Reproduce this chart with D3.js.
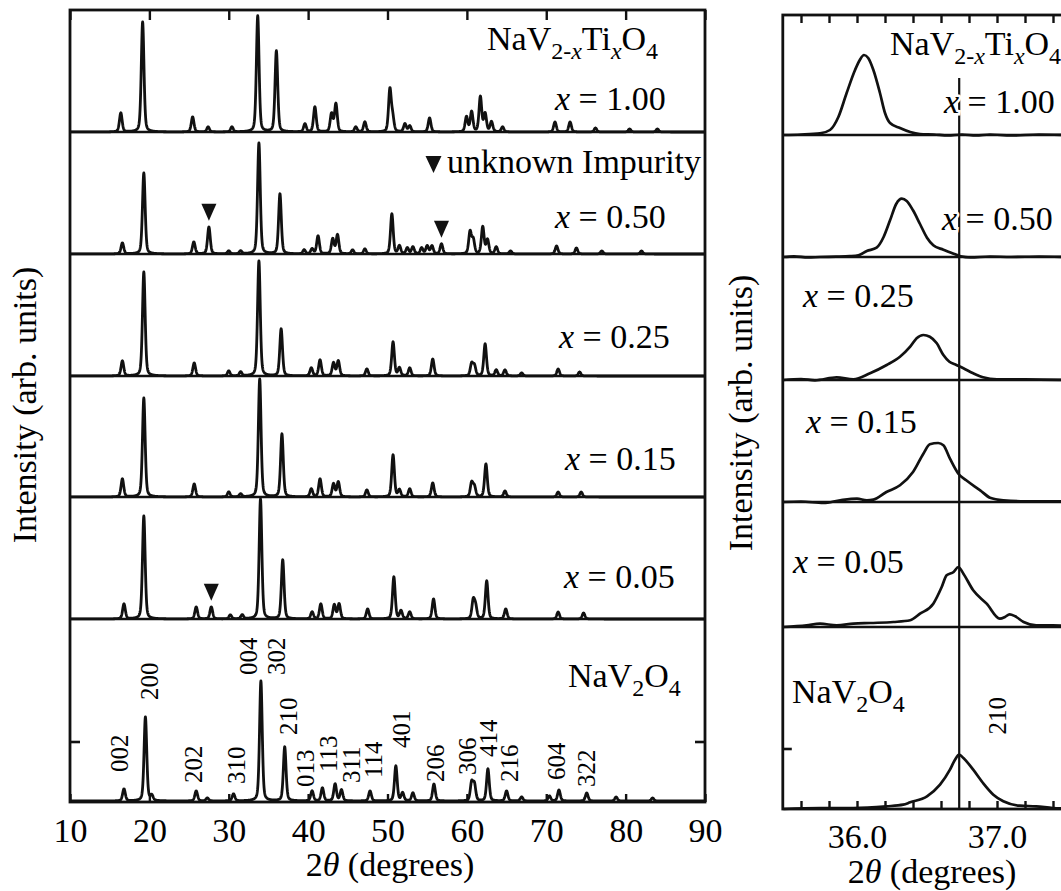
<!DOCTYPE html>
<html>
<head>
<meta charset="utf-8">
<script src="https://cdn.jsdelivr.net/npm/d3@7"></script>
<style>
  body { margin: 0; background: #fff; }
  svg { display: block; }
  text { font-family: "Liberation Serif", "Times New Roman", serif; fill: #000; }
</style>
</head>
<body>
<svg id="chart" width="1061" height="891"></svg>
<script>
// ---------- data ----------
// compositions x in NaV(2-x)Ti(x)O4, top to bottom
const compositions = ["1.00", "0.50", "0.25", "0.15", "0.05", "0"];

// full-range patterns: [2theta (deg), peak height (arb. units)]
const peaksX100 = [[16.4,19],[19.15,110],[25.45,15],[27.4,5],[30.4,5],[33.65,116],[36.0,81],[39.6,8],[40.85,25],
  [42.95,18],[43.5,28],[46.0,5],[47.15,10],[50.3,42],[50.65,14],[52.2,8],[52.8,6],[55.3,14],[59.95,15],[60.6,20],
  [61.7,35],[62.3,18],[63.1,10],[64.5,5],[71.1,10],[73.0,10],[76.2,4],[80.5,3],[84.0,3]];
const peaksX050 = [[16.6,11],[19.3,81],[25.6,12],[27.5,27],[30.0,3],[31.5,3],[33.8,111],[36.45,60],[39.5,4],[40.5,5],
  [41.25,18],[43.1,15],[43.7,19],[45.6,4],[47.15,5],[50.55,40],[51.5,8],[52.5,6],[53.2,7],[54.3,6],[55.0,8],[55.6,8],
  [56.8,10],[60.4,22],[60.8,14],[62.0,27],[62.6,14],[63.7,7],[65.5,3],[71.3,8],[73.8,6],[77.0,3],[82.0,3]];
const peaksX025 = [[16.6,15],[19.3,104],[25.65,13],[30.0,5],[31.5,4],[33.8,115],[36.6,47],[40.4,8],[41.5,16],[43.2,13],
  [43.8,15],[47.4,7],[50.7,34],[51.5,8],[52.8,8],[55.7,17],[60.6,12],[60.95,10],[62.3,32],[63.7,6],[64.8,6],[66.9,3],
  [71.5,7],[74.2,4]];
const peaksX015 = [[16.6,18],[19.3,99],[25.65,13],[30.0,5],[31.5,3],[33.9,118],[36.7,63],[40.4,8],[41.5,18],[43.2,13],
  [43.8,15],[47.4,7],[50.7,42],[51.5,7],[52.8,8],[55.7,14],[60.6,14],[60.95,10],[62.4,33],[64.8,6],[71.5,5],[74.4,5]];
const peaksX005 = [[16.8,15],[19.3,103],[25.9,12],[27.8,12],[30.2,4],[31.7,4],[34.0,120],[36.8,59],[40.5,7],[41.6,15],
  [43.3,14],[43.9,15],[47.5,10],[50.8,42],[51.7,8],[52.8,7],[55.8,20],[60.8,18],[61.1,12],[62.5,38],[64.9,10],
  [71.5,7],[74.7,6]];
const peaksX000 = [[16.8,12],[19.5,84],[20.3,5],[25.9,10],[27.3,3],[30.6,7],[34.05,120],[37.05,54],[40.5,10],[41.8,13],
  [43.4,17],[44.2,11],[47.8,10],[51.05,35],[51.9,8],[53.2,8],[55.85,17],[60.6,18],[60.95,16],[62.65,32],[65.0,10],
  [66.9,4],[70.4,5],[71.6,11],[75.1,8],[78.8,4],[83.4,3]];
const patterns = [peaksX100, peaksX050, peaksX025, peaksX015, peaksX005, peaksX000];

// impurity reflections: [pattern index, 2theta]
const impurityMarks = [[1, 27.5], [1, 56.8], [4, 27.8]];

// Miller indices of NaV2O4: [hkl, 2theta of label, label foot height]
const millerLabels = [["002",16.17,29],["200",19.95,101],["202",25.5,18],["310",31.0,17],["004",32.4,126],
  ["302",35.95,126],["210",37.45,66],["013",39.7,14],["113",42.5,29],["311",45.4,18],["114",48.2,23],
  ["401",51.7,53],["206",56.0,19],["306",60.1,26],["414",62.75,44],["216",65.4,19],["604",71.3,21],["322",75.1,14]];

// close-up of the 210 reflection: [2theta, intensity]
const zoomX100 = [[35.474,0],[35.6,0.5],[35.736,1.7],[35.807,5],[35.867,18],[35.926,42],[35.986,65],[36.02,75],
  [36.05,80],[36.08,77],[36.117,65],[36.164,42],[36.2,22],[36.236,12],[36.307,7],[36.38,3],[36.45,1],[36.55,0.5],
  [36.65,-0.5],[36.75,0.5],[36.85,-0.5],[36.95,0.5],[37.1,-0.5],[37.3,0.5],[37.5,0]];
const zoomX050 = [[35.474,0],[35.55,0.7],[35.65,-0.5],[35.736,0],[35.85,0.3],[35.95,0.8],[36.01,1.7],[36.07,6],
  [36.14,9.3],[36.19,20],[36.236,36.7],[36.28,53],[36.32,58.3],[36.355,56],[36.4,46.7],[36.45,33],[36.5,19.3],
  [36.545,11.7],[36.617,7.3],[36.69,3.3],[36.74,0.7],[36.81,-0.5],[36.95,0.5],[37.1,0],[37.3,0.5],[37.5,0]];
const zoomX025 = [[35.474,0],[35.6,1],[35.7,-0.3],[35.855,2.7],[35.974,0.7],[36.093,6.7],[36.212,15],[36.307,23.3],
  [36.38,33.3],[36.426,41.7],[36.474,45],[36.52,43.3],[36.57,36.7],[36.617,25],[36.66,18.3],[36.71,15],[36.76,11.7],
  [36.83,6.7],[36.9,2.7],[37.0,0.7],[37.2,0.7],[37.5,0]];
const zoomX015 = [[35.474,0],[35.6,0.5],[35.76,-1],[35.88,1.7],[36.0,3.3],[36.07,1.7],[36.117,2.3],[36.21,10],
  [36.307,16.7],[36.4,30],[36.474,48.3],[36.52,57.7],[36.58,59],[36.617,56.7],[36.664,43.3],[36.724,28.3],
  [36.78,21.7],[36.88,11.7],[36.95,4.3],[37.045,1.7],[37.2,0.7],[37.4,0.7],[37.5,0.5]];
const zoomX005 = [[35.474,0],[35.64,1.7],[35.736,3.3],[35.855,1.7],[35.974,3.3],[36.093,4],[36.26,5],[36.38,6.7],
  [36.45,13.3],[36.545,23.3],[36.605,40],[36.64,51.7],[36.69,55],[36.724,60],[36.76,53.3],[36.83,36.7],[36.926,23.3],
  [37.02,8.3],[37.057,10],[37.09,12.7],[37.13,10.7],[37.19,5],[37.28,1.7],[37.4,1.7],[37.5,1]];
const zoomX000 = [[35.474,0],[35.736,1],[35.974,1],[36.21,2.7],[36.33,4.3],[36.38,6.7],[36.5,12.7],[36.593,24.3],
  [36.664,39.3],[36.7,49.3],[36.73,54.3],[36.76,51],[36.83,39.3],[36.9,26],[36.974,14.3],[37.045,7.7],[37.164,3.3],
  [37.28,2.7],[37.4,1],[37.5,0.5]];
const zoomCurves = [zoomX100, zoomX050, zoomX025, zoomX015, zoomX005, zoomX000];
const peak210 = 36.73;

// axis ticks
const wideTicks = [10, 20, 30, 40, 50, 60, 70, 80, 90];
const wideTickLabels = ["10", "20", "30", "40", "50", "60", "70", "80", "90"];
const zoomMinorTicks = d3.range(178, 191).map(d => d / 5);
const zoomLabelTicks = [36, 37];
const zoomTickLabels = ["36.0", "37.0"];

// ---------- drawing ----------
const svg = d3.select("#chart");
const INK = "#111";
const FS = 34;

const formulaParts = [
  { t: "NaV" }, { t: "2-", sub: 1 }, { t: "x", sub: 1, it: 1 }, { t: "Ti" },
  { t: "x", sub: 1, it: 1 }, { t: "O" }, { t: "4", sub: 1 }
];
const parentParts = [{ t: "NaV" }, { t: "2", sub: 1 }, { t: "O" }, { t: "4", sub: 1 }];

function formula(g, parts, x, y, halo) {
  const t = g.append("text").attr("x", x).attr("y", y).attr("font-size", FS);
  if (halo) t.attr("stroke", "#fff").attr("stroke-width", 5).attr("paint-order", "stroke");
  let cur = 0;
  parts.forEach(p => {
    const shift = p.sub ? 9 : 0;
    const ts = t.append("tspan").text(p.t).attr("font-size", p.sub ? 24 : FS);
    if (shift !== cur) ts.attr("dy", shift - cur);
    cur = shift;
    if (p.it) ts.attr("font-style", "italic");
  });
  return t;
}

function compLabel(g, label, x, y, halo) {
  const t = g.append("text").attr("x", x).attr("y", y).attr("font-size", FS);
  if (halo) t.attr("stroke", "#fff").attr("stroke-width", 5).attr("paint-order", "stroke");
  t.append("tspan").attr("font-style", "italic").text("x");
  t.append("tspan").text(" = " + label);
  return t;
}

// pseudo-Voigt profile used to draw each reflection
const FWHM = 0.4, ETA = 0.35;
function profile(peaks, tt) {
  let s = 0;
  for (const [c, h] of peaks) {
    const d = (tt - c) / (FWHM / 2);
    s += h * (ETA / (1 + d * d) + (1 - ETA) * Math.exp(-Math.LN2 * d * d));
  }
  return s;
}

// ===== left panel: full 2theta range =====
const xW = d3.scaleLinear().domain([10, 90]).range([70, 705]);
const wTop = 10, wBot = 802;
const baseW = [132, 254, 376, 497, 619, 801];
const yW = baseW.map(b => d3.scaleLinear().domain([0, 100]).range([b, b - 100]));
const grid = d3.range(0, 3201).map(i => 10 + i * 0.025);

const left = svg.append("g");
// separators between stacked patterns
left.selectAll("line.sep").data(baseW.slice(0, 5)).join("line")
  .attr("x1", xW(10)).attr("x2", xW(90)).attr("y1", d => d).attr("y2", d => d)
  .attr("stroke", INK).attr("stroke-width", 2.6);

const lineW = d3.line();
patterns.forEach((pk, i) => {
  left.append("path")
    .attr("d", lineW(grid.map(t => [xW(t), yW[i](profile(pk, t))])))
    .attr("fill", "none").attr("stroke", INK).attr("stroke-width", 2.8).attr("stroke-linejoin", "round");
});

// impurity markers
function tri(x, yb, w, h) { return `M${x - w / 2},${yb - h}L${x + w / 2},${yb - h}L${x},${yb}Z`; }
impurityMarks.forEach(([i, t]) => {
  const top = yW[i](profile(patterns[i], t)) - 6;
  left.append("path").attr("d", tri(xW(t), top, 15, 17)).attr("fill", INK);
});

// Miller indices
left.selectAll("text.hkl").data(millerLabels).join("text")
  .attr("transform", d => `translate(${xW(d[1])},${yW[5](d[2])}) rotate(-90)`)
  .attr("dy", "0.35em").attr("font-size", 25).text(d => d[0]);

// frame and axes
left.append("rect").attr("x", xW(10)).attr("y", wTop).attr("width", xW(90) - xW(10)).attr("height", wBot - wTop)
  .attr("fill", "none").attr("stroke", INK).attr("stroke-width", 2.8);
const topAx = left.append("g").attr("transform", `translate(0,${wTop})`)
  .call(d3.axisBottom(xW).tickValues(wideTicks).tickSize(10).tickFormat(""));
const botAx = left.append("g").attr("transform", `translate(0,${wBot})`)
  .call(d3.axisTop(xW).tickValues(wideTicks).tickSize(8).tickFormat(""));
const botLab = left.append("g").attr("transform", `translate(0,${wBot})`)
  .call(d3.axisBottom(xW).tickValues(wideTicks).tickSize(0).tickPadding(16).tickFormat((d, i) => wideTickLabels[i]));
[topAx, botAx, botLab].forEach(a => {
  a.select(".domain").remove();
  a.selectAll("line").attr("stroke", INK).attr("stroke-width", 2.4);
});
botLab.selectAll("text").attr("font-size", FS).attr("font-family", "Liberation Serif").attr("fill", "#000");
// intensity tick on the NaV2O4 pattern
[[xW(10), 10], [xW(90), -10]].forEach(([x, dx]) => {
  left.append("line").attr("x1", x).attr("x2", x + dx).attr("y1", yW[5](59)).attr("y2", yW[5](59))
    .attr("stroke", INK).attr("stroke-width", 2.6);
});

// texts
formula(left, formulaParts, 487, 50);
compositions.slice(0, 5).forEach((c, i) => {
  const pos = [[555, 110], [555, 228], [559, 348], [565, 470], [564, 588]][i];
  compLabel(left, c, pos[0], pos[1]);
});
formula(left, parentParts, 568, 687);
left.append("path").attr("d", tri(433.5, 173, 16, 17)).attr("fill", INK);
left.append("text").attr("x", 447).attr("y", 173).attr("font-size", FS).text("unknown Impurity");

left.append("text").attr("transform", "translate(36,405) rotate(-90)").attr("text-anchor", "middle")
  .attr("font-size", FS).text("Intensity (arb. units)");
const xt1 = left.append("text").attr("x", 390).attr("y", 876).attr("text-anchor", "middle").attr("font-size", FS);
xt1.append("tspan").text("2");
xt1.append("tspan").attr("font-style", "italic").text("θ");
xt1.append("tspan").text(" (degrees)");

// ===== right panel: 210 reflection close-up =====
const xZ = d3.scaleLinear().domain([35.47, 38.2]).range([857 - 0.53 * 140, 857 + 2.2 * 140]);
const zTop = 15, zBot = 809;
const baseZ = [135, 257, 380, 502, 627, 809];
const yZ = baseZ.map(b => d3.scaleLinear().domain([0, 100]).range([b, b - 100]));

const right = svg.append("g");
right.selectAll("line.sep").data(baseZ.slice(0, 5)).join("line")
  .attr("x1", xZ.range()[0]).attr("x2", xZ.range()[1]).attr("y1", d => d).attr("y2", d => d)
  .attr("stroke", INK).attr("stroke-width", 2.4);

// reference position of the NaV2O4 210 reflection
right.append("line").attr("x1", xZ(peak210)).attr("x2", xZ(peak210)).attr("y1", 78).attr("y2", zBot)
  .attr("stroke", INK).attr("stroke-width", 2.2);

const lineZ = d3.line().curve(d3.curveMonotoneX);
zoomCurves.forEach((pts, i) => {
  right.append("path")
    .attr("d", lineZ(pts.map(([t, v]) => [xZ(t), yZ[i](v)])))
    .attr("fill", "none").attr("stroke", INK).attr("stroke-width", 2.7).attr("stroke-linejoin", "round");
});

right.append("rect").attr("x", xZ.range()[0]).attr("y", zTop)
  .attr("width", xZ.range()[1] - xZ.range()[0]).attr("height", zBot - zTop)
  .attr("fill", "none").attr("stroke", INK).attr("stroke-width", 2.8);
const zTopAx = right.append("g").attr("transform", `translate(0,${zTop})`)
  .call(d3.axisBottom(xZ).tickValues(zoomMinorTicks).tickSize(8).tickFormat(""));
const zBotAx = right.append("g").attr("transform", `translate(0,${zBot})`)
  .call(d3.axisTop(xZ).tickValues(zoomMinorTicks).tickSize(8).tickFormat(""));
const zBotLab = right.append("g").attr("transform", `translate(0,${zBot})`)
  .call(d3.axisBottom(xZ).tickValues(zoomLabelTicks).tickSize(0).tickPadding(15)
    .tickFormat((d, i) => zoomTickLabels[i]));
[zTopAx, zBotAx, zBotLab].forEach(a => {
  a.select(".domain").remove();
  a.selectAll("line").attr("stroke", INK).attr("stroke-width", 2.4);
});
zBotLab.selectAll("text").attr("font-size", FS).attr("font-family", "Liberation Serif").attr("fill", "#000");
right.append("line").attr("x1", xZ.range()[0]).attr("x2", xZ.range()[0] + 9)
  .attr("y1", yZ[5](60)).attr("y2", yZ[5](60)).attr("stroke", INK).attr("stroke-width", 2.6);

formula(right, formulaParts, 890, 55);
compLabel(right, compositions[0], 944, 113, true);
compLabel(right, compositions[1], 942, 230, true);
compLabel(right, compositions[2], 803, 307);
compLabel(right, compositions[3], 806, 433);
compLabel(right, compositions[4], 793, 573);
formula(right, parentParts, 792, 703);
right.append("text").attr("transform", `translate(${xZ(37.0)},697) rotate(-90)`)
  .attr("dy", "0.35em").attr("text-anchor", "end").attr("font-size", 25).text("210");

right.append("text").attr("transform", "translate(752,413) rotate(-90)").attr("text-anchor", "middle")
  .attr("font-size", FS).text("Intensity (arb. units)");
const xt2 = right.append("text").attr("x", 932).attr("y", 883).attr("text-anchor", "middle").attr("font-size", FS);
xt2.append("tspan").text("2");
xt2.append("tspan").attr("font-style", "italic").text("θ");
xt2.append("tspan").text(" (degrees)");
</script>
</body>
</html>
